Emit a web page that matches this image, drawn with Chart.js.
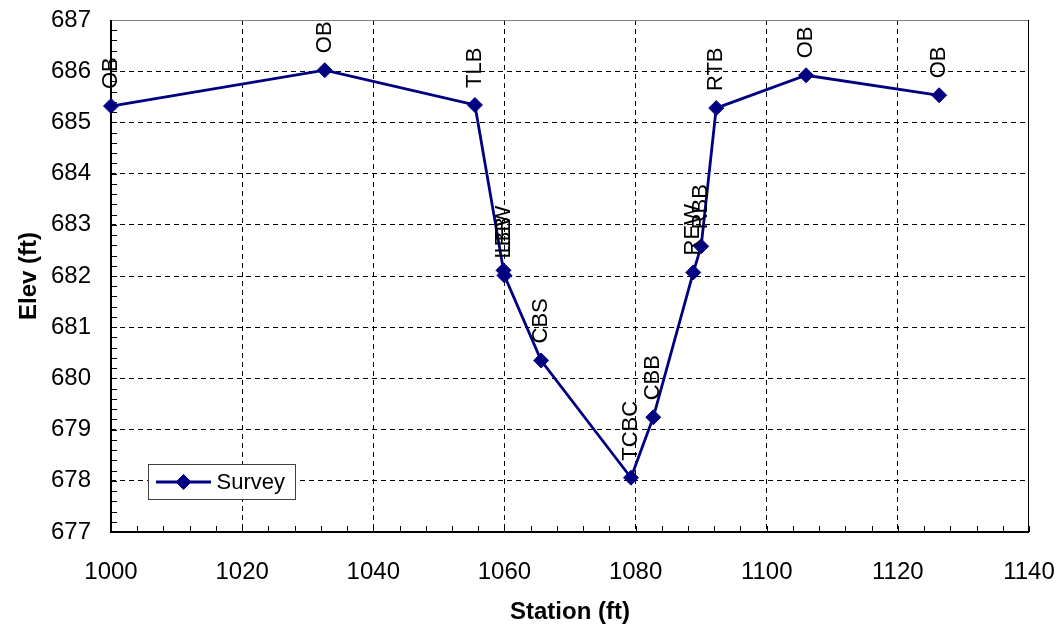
<!DOCTYPE html>
<html><head><meta charset="utf-8">
<script src="https://cdn.jsdelivr.net/npm/chart.js@4.4.0/dist/chart.umd.min.js"></script>
<style>html,body{margin:0;padding:0;background:#fff;} #wrap{width:1064px;height:633px;}</style>
</head><body><div id="wrap"><canvas id="c" width="1064" height="633"></canvas></div>
<script>
const seriesName = 'Survey';
const stations = [1000, 1032.6, 1055.5, 1059.86, 1060.0, 1065.6, 1079.3, 1082.7, 1088.8, 1090.0, 1092.3, 1106.0, 1126.3];
const elevations = [685.32, 686.02, 685.34, 682.11, 682.01, 680.35, 678.06, 679.24, 682.07, 682.58, 685.28, 685.92, 685.53];
const pointLabels = ['OB', 'OB', 'TLB', 'LEW', 'LBB', 'CBS', 'TCBC', 'CBB', 'REW', 'RBB', 'RTB', 'OB', 'OB'];
const xTicks = [1000, 1020, 1040, 1060, 1080, 1100, 1120, 1140];
const yTicks = [677, 678, 679, 680, 681, 682, 683, 684, 685, 686, 687];
const xMinorStep = 4;
const yMinorStep = 0.2;
const xTitle = 'Station (ft)';
const yTitle = 'Elev (ft)';

const FONT = '"Liberation Sans", Arial, sans-serif';
const NAVY = '#000080';

const edgeTransparent = (ctx) => {
  const n = ctx.scale && ctx.scale.ticks ? ctx.scale.ticks.length : 0;
  return (ctx.index === 0 || ctx.index === n - 1) ? 'rgba(0,0,0,0)' : '#000';
};

const framePlugin = {
  id: 'frame',
  beforeDatasetsDraw(chart) {
    const {ctx, chartArea: a, scales: {x, y}} = chart;
    ctx.save();
    ctx.strokeStyle = '#000';
    ctx.lineWidth = 1;
    ctx.beginPath();
    for (let v = y.min; v <= y.max + 1e-9; v += yMinorStep) {
      const py = Math.round(y.getPixelForValue(v)) + 0.5;
      ctx.moveTo(a.left, py); ctx.lineTo(a.left + 6, py);
    }
    for (let v = x.min; v <= x.max + 1e-9; v += xMinorStep) {
      const px = Math.round(x.getPixelForValue(v)) + 0.5;
      ctx.moveTo(px, a.bottom); ctx.lineTo(px, a.bottom - 6);
    }
    ctx.stroke();
    ctx.beginPath();
    ctx.strokeStyle = '#808080';
    ctx.moveTo(a.left, a.top + 0.5); ctx.lineTo(a.right, a.top + 0.5);
    ctx.stroke();
    ctx.beginPath();
    ctx.strokeStyle = '#000';
    ctx.moveTo(a.right - 0.5, a.top); ctx.lineTo(a.right - 0.5, a.bottom);
    ctx.stroke();
    ctx.beginPath();
    ctx.lineWidth = 2;
    ctx.moveTo(a.left, a.top); ctx.lineTo(a.left, a.bottom); ctx.lineTo(a.right, a.bottom);
    ctx.stroke();
    ctx.restore();
  }
};

const labelPlugin = {
  id: 'pointLabels',
  afterDatasetsDraw(chart) {
    const {ctx} = chart;
    const meta = chart.getDatasetMeta(0);
    ctx.save();
    ctx.font = '22px ' + FONT;
    ctx.fillStyle = '#000';
    ctx.textAlign = 'left';
    ctx.textBaseline = 'middle';
    meta.data.forEach((pt, i) => {
      ctx.save();
      ctx.translate(pt.x, pt.y - 17);
      ctx.rotate(-Math.PI / 2);
      ctx.fillText(pointLabels[i], 0, 0);
      ctx.restore();
    });
    ctx.restore();
  }
};

const legendPlugin = {
  id: 'insideLegend',
  afterDraw(chart) {
    const {ctx, chartArea: a} = chart;
    const ds = chart.data.datasets[0];
    const bx = a.left + 37.5, by = a.bottom - 67.5, bw = 147, bh = 35;
    ctx.save();
    ctx.fillStyle = '#fff';
    ctx.fillRect(bx, by, bw, bh);
    ctx.strokeStyle = '#404040';
    ctx.lineWidth = 1;
    ctx.strokeRect(bx, by, bw, bh);
    const cy = by + bh / 2;
    ctx.strokeStyle = ds.borderColor;
    ctx.lineWidth = ds.borderWidth;
    ctx.beginPath();
    ctx.moveTo(bx + 7.5, cy); ctx.lineTo(bx + 62.5, cy);
    ctx.stroke();
    ctx.fillStyle = ds.pointBackgroundColor;
    ctx.strokeStyle = ds.pointBorderColor;
    ctx.lineWidth = 1;
    ctx.beginPath();
    const r = ds.pointRadius, px = bx + 35;
    ctx.moveTo(px - r, cy); ctx.lineTo(px, cy - r); ctx.lineTo(px + r, cy); ctx.lineTo(px, cy + r); ctx.closePath();
    ctx.fill(); ctx.stroke();
    ctx.fillStyle = '#000';
    ctx.font = '22px ' + FONT;
    ctx.textAlign = 'left';
    ctx.textBaseline = 'middle';
    ctx.fillText(ds.label, bx + 68, cy + 1);
    ctx.restore();
  }
};

new Chart(document.getElementById('c'), {
  type: 'scatter',
  data: {
    datasets: [{
      label: seriesName,
      data: stations.map((s, i) => ({x: s, y: elevations[i]})),
      showLine: true,
      borderColor: NAVY,
      borderWidth: 2.8,
      pointStyle: 'rectRot',
      pointRadius: 7.5,
      pointBorderWidth: 1,
      pointBackgroundColor: NAVY,
      pointBorderColor: NAVY,
      clip: false,
      tension: 0
    }]
  },
  options: {
    responsive: false,
    animation: false,
    events: [],
    layout: {padding: {left: 0, right: 35, top: 20, bottom: 0}},
    plugins: {legend: {display: false}, tooltip: {enabled: false}},
    scales: {
      x: {
        type: 'linear', min: xTicks[0], max: xTicks[xTicks.length - 1],
        afterBuildTicks: s => { s.ticks = xTicks.map(v => ({value: v})); },
        afterFit: s => { s.height = 101; s.paddingLeft = 0; s.paddingRight = 0; },
        grid: {color: edgeTransparent, lineWidth: 1, drawTicks: false},
        border: {display: false, dash: [5, 4]},
        ticks: {padding: 26, color: '#000', maxRotation: 0, autoSkip: false, font: {family: FONT, size: 24}, callback: v => String(v)},
        title: {display: true, text: xTitle, color: '#000', font: {family: FONT, size: 24, weight: 'bold'}, padding: {top: 6, bottom: 6}}
      },
      y: {
        type: 'linear', min: yTicks[0], max: yTicks[yTicks.length - 1],
        afterBuildTicks: s => { s.ticks = yTicks.map(v => ({value: v})); },
        afterFit: s => { s.width = 111; s.paddingTop = 0; s.paddingBottom = 0; },
        grid: {color: edgeTransparent, lineWidth: 1, drawTicks: false},
        border: {display: false, dash: [5, 4]},
        ticks: {padding: 20, color: '#000', autoSkip: false, font: {family: FONT, size: 24}, callback: v => String(v)},
        title: {display: true, text: yTitle, color: '#000', font: {family: FONT, size: 24, weight: 'bold'}, padding: {top: 15, bottom: 15}}
      }
    }
  },
  plugins: [framePlugin, labelPlugin, legendPlugin]
});
</script>
</body></html>
